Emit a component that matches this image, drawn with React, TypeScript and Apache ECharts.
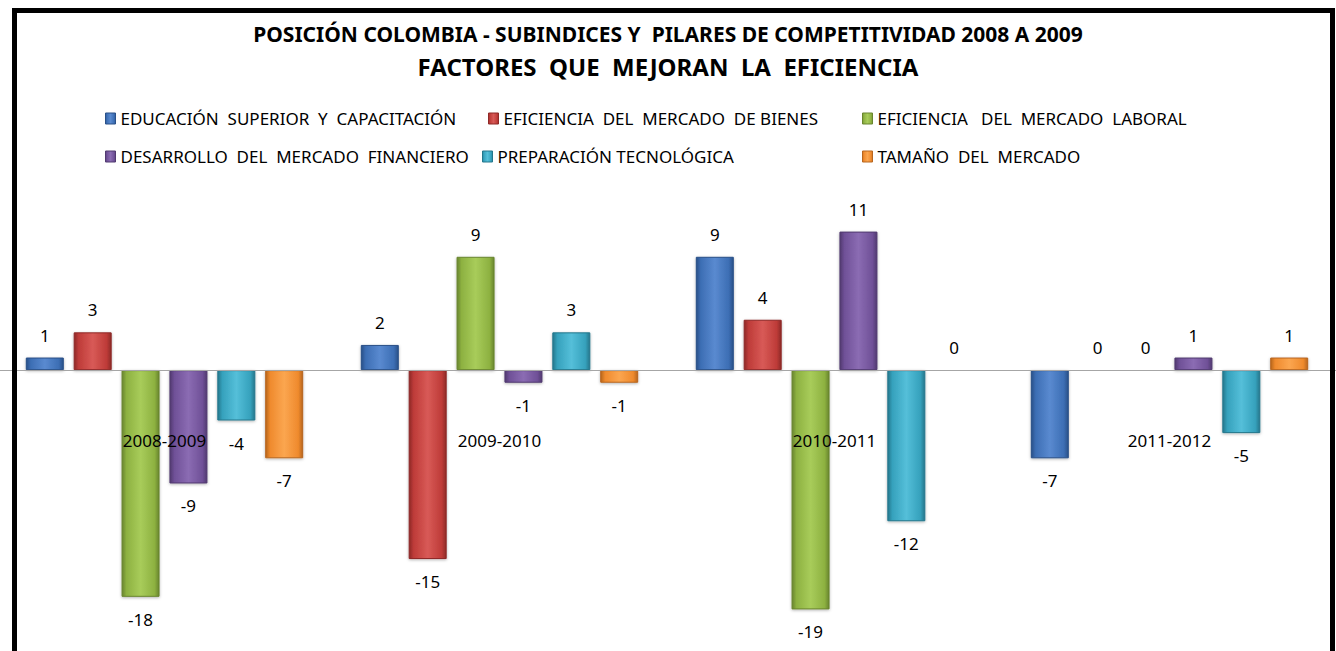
import React, { useEffect, useRef } from "react";
import * as echarts from "echarts";

const categories = ["2008-2009", "2009-2010", "2010-2011", "2011-2012"];
const seriesNames = [
  "EDUCACIÓN  SUPERIOR  Y  CAPACITACIÓN",
  "EFICIENCIA  DEL  MERCADO  DE BIENES",
  "EFICIENCIA   DEL  MERCADO  LABORAL",
  "DESARROLLO  DEL  MERCADO  FINANCIERO",
  "PREPARACIÓN TECNOLÓGICA",
  "TAMAÑO  DEL  MERCADO",
];
const educacion = [1, 2, 9, -7];
const bienes = [3, -15, 4, 0];
const laboral = [-18, 9, -19, 0];
const financiero = [-9, -1, 11, 1];
const tecnologica = [-4, 3, -12, -5];
const tamano = [-7, -1, 0, 1];

const seriesValues = [educacion, bienes, laboral, financiero, tecnologica, tamano];
const baseColors = ["#3c6eb4", "#be3b38", "#8db141", "#6f5097", "#35a1bc", "#ef8a2d"];
const darkColors = ["#2a5088", "#8e2927", "#69852e", "#513a70", "#24778c", "#b8661e"];
const lightColors = ["#5a8ad0", "#d85a57", "#a8cc5a", "#8b6cb3", "#55bfd9", "#fba650"];

const legendPos = [
  { left: 105, top: 110 },
  { left: 488, top: 110 },
  { left: 862, top: 110 },
  { left: 105, top: 148 },
  { left: 482, top: 148 },
  { left: 862, top: 148 },
];

const FONT = '"Noto Sans", sans-serif';

export default function App() {
  const ref = useRef<HTMLDivElement>(null);
  useEffect(() => {
    document.body.style.margin = "0";
    const chart = echarts.init(ref.current!, null, { renderer: "svg" });
    const grad = (i: number) =>
      new echarts.graphic.LinearGradient(0, 0, 1, 0, [
        { offset: 0, color: darkColors[i] },
        { offset: 0.12, color: baseColors[i] },
        { offset: 0.5, color: lightColors[i] },
        { offset: 0.88, color: baseColors[i] },
        { offset: 1, color: darkColors[i] },
      ]);
    chart.setOption({
      animation: false,
      backgroundColor: "#ffffff",
      textStyle: { fontFamily: FONT },
      title: [
        {
          text: "POSICIÓN COLOMBIA - SUBINDICES Y  PILARES DE COMPETITIVIDAD 2008 A 2009",
          left: "center",
          top: 18,
          textStyle: { fontFamily: FONT, fontSize: 21, fontWeight: "bold", color: "#000" },
        },
        {
          text: "FACTORES  QUE  MEJORAN  LA  EFICIENCIA",
          left: "center",
          top: 49,
          textStyle: { fontFamily: FONT, fontSize: 24, fontWeight: "bold", color: "#000" },
        },
      ],
      legend: seriesNames.map((n, i) => ({
        data: [{ name: n, itemStyle: { color: grad(i), borderColor: darkColors[i], borderWidth: 1 } }],
        left: legendPos[i].left,
        top: legendPos[i].top,
        icon: "rect",
        itemWidth: 10,
        itemHeight: 11,
        padding: 0,
        selectedMode: false,
        textStyle: { fontFamily: FONT, fontSize: 17, color: "#000" },
      })),
      graphic: [
        {
          type: "rect",
          shape: { x: 14.5, y: 10.5, width: 1318, height: 700 },
          style: { fill: "none", stroke: "#000", lineWidth: 5 },
          z: 100,
        },
      ],
      grid: {
        left: -3,
        width: 1340,
        top: 219,
        height: 403,
        containLabel: false,
        outerBoundsMode: "none",
      },
      xAxis: {
        type: "category",
        data: categories,
        z: 10,
        position: "bottom",
        offset: -252,
        axisTick: { show: false },
        axisLine: { onZero: false, lineStyle: { color: "#a6a6a6", width: 1 } },
        axisLabel: { margin: 62, fontSize: 17, color: "#000", fontFamily: FONT },
      },
      yAxis: {
        type: "value",
        min: -20,
        max: 12,
        show: false,
        splitLine: { show: false },
      },
      series: seriesValues.map((vals, i) => ({
        name: seriesNames[i],
        type: "bar",
        barWidth: 38,
        barGap: "26%",
        itemStyle: {
          color: grad(i),
          borderColor: darkColors[i],
          borderWidth: 1,
          shadowBlur: 3,
          shadowColor: "rgba(0,0,0,0.3)",
          shadowOffsetY: 1,
        },
        label: { show: true, distance: 14, fontSize: 17, color: "#000", fontFamily: FONT },
        data: vals.map((v) => ({ value: v, label: { position: v >= 0 ? "top" : "bottom" } })),
      })),
    });
    return () => chart.dispose();
  }, []);
  return <div ref={ref} style={{ width: 1336, height: 651 }} />;
}
